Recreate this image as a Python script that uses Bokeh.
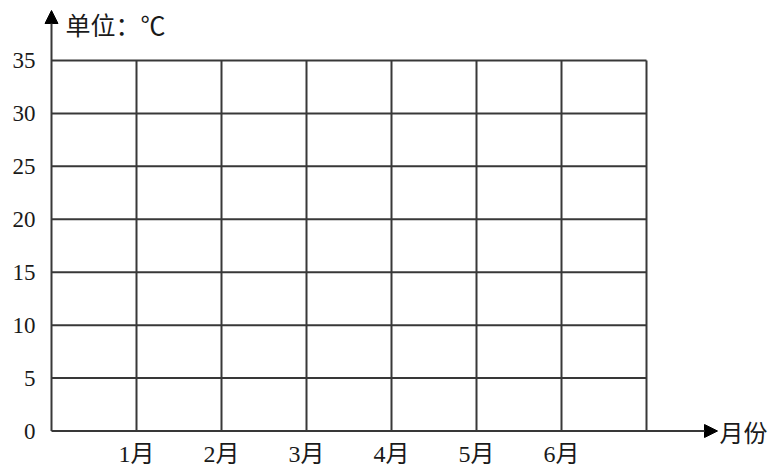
from bokeh.plotting import figure
from bokeh.models import Range1d, FixedTicker, Arrow, NormalHead, Label
from bokeh.embed import file_html
from bokeh.resources import INLINE

# ---- data ----
months = ["1月", "2月", "3月", "4月", "5月", "6月"]
month_pos = [1, 2, 3, 4, 5, 6]
y_ticks = [0, 5, 10, 15, 20, 25, 30, 35]
col_edges = [0, 1, 2, 3, 4, 5, 6, 7]
y_unit = "单位：℃"
x_unit = "月份"

W, H = 772, 473
X0_PX, Y0_PX = 51.0, 430.5          # pixel position of the origin
px_x = 85.0                          # pixels per month
px_y = (430.5 - 60.0) / 35.0         # pixels per degree
FRAME_LEFT = 40
FRAME_BOTTOM = 448

x_start = -(X0_PX - FRAME_LEFT) / px_x
x_end = (W - X0_PX) / px_x
y_start = -(FRAME_BOTTOM - Y0_PX) / px_y
y_end = Y0_PX / px_y

p = figure(width=W, height=H, output_backend="svg", toolbar_location=None,
           x_range=Range1d(x_start, x_end), y_range=Range1d(y_start, y_end),
           min_border_left=FRAME_LEFT, min_border_bottom=H - FRAME_BOTTOM,
           min_border_right=0, min_border_top=0)
p.outline_line_color = None
p.xgrid.visible = False
p.ygrid.visible = False
p.background_fill_color = "white"
p.border_fill_color = "white"

GRID = "#383838"
LW = 2

# horizontal grid lines (y > 0)
hy = [v for v in y_ticks if v > 0]
p.segment(x0=[col_edges[0]] * len(hy), x1=[col_edges[-1]] * len(hy), y0=hy, y1=hy,
          line_color=GRID, line_width=LW)
# vertical grid lines
vx = col_edges[1:]
p.segment(x0=vx, x1=vx, y0=[0] * len(vx), y1=[y_ticks[-1]] * len(vx),
          line_color=GRID, line_width=LW)

# axes arrows
y_tip = (Y0_PX - 10) / px_y
x_tip = (717 - X0_PX) / px_x
p.add_layout(Arrow(end=NormalHead(size=13, fill_color="black", line_color="black", line_width=1),
                   x_start=0, y_start=0, x_end=0, y_end=y_tip,
                   line_color=GRID, line_width=LW))
p.add_layout(Arrow(end=NormalHead(size=13, fill_color="black", line_color="black", line_width=1),
                   x_start=0, y_start=0, x_end=x_tip, y_end=0,
                   line_color=GRID, line_width=LW))

# y axis
ya = p.yaxis[0]
ya.ticker = FixedTicker(ticks=y_ticks)
ya.axis_line_color = None
ya.major_tick_line_color = None
ya.minor_tick_line_color = None
ya.major_tick_out = 0
ya.major_tick_in = 0
ya.major_label_standoff = 5
ya.major_label_text_font = "Liberation Serif"
ya.major_label_text_font_size = "23px"
ya.major_label_text_color = "#1a1a1a"

# x axis
xa = p.xaxis[0]
xa.ticker = FixedTicker(ticks=month_pos)
xa.major_label_overrides = {m: lab for m, lab in zip(month_pos, months)}
xa.axis_line_color = None
xa.major_tick_line_color = None
xa.minor_tick_line_color = None
xa.major_tick_out = 0
xa.major_tick_in = 0
xa.major_label_standoff = -8
xa.major_label_text_font = "'Liberation Serif', 'Noto Sans CJK SC'"
xa.major_label_text_font_size = "24px"
xa.major_label_text_color = "#1a1a1a"

# unit labels
p.add_layout(Label(x=(65 - X0_PX) / px_x, y=(Y0_PX - 23) / px_y, text=y_unit,
                   text_font="Noto Sans CJK SC", text_font_size="25px",
                   text_color="#1a1a1a", text_baseline="middle", text_align="left"))
p.add_layout(Label(x=(719 - X0_PX) / px_x, y=0, text=x_unit,
                   text_font="Noto Sans CJK SC", text_font_size="24px",
                   text_color="#1a1a1a", text_baseline="middle", text_align="left"))

open("out.html", "w").write(file_html(p, INLINE))
